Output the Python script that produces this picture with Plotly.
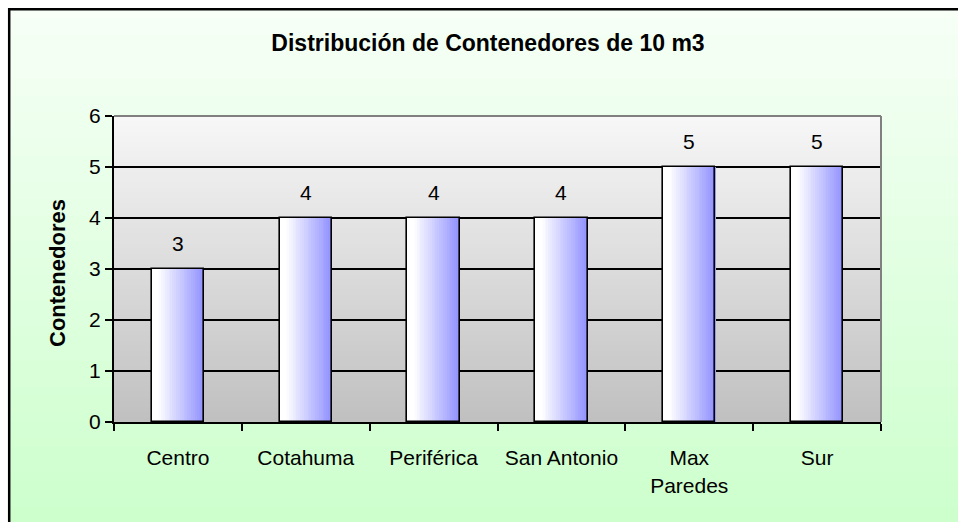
import plotly.graph_objects as go

categories = ["Centro", "Cotahuma", "Periférica", "San Antonio", "Max<br>Paredes", "Sur"]
values = [3, 4, 4, 4, 5, 5]
y_ticks = [0, 1, 2, 3, 4, 5, 6]
title_text = "Distribución de Contenedores de 10 m3"
y_title = "Contenedores"

W, H = 958, 522
L, R, T, B = 114, 77, 116, 100
pw = W - L - R
ph = H - T - B


def pxx(px):
    return (px - L) / pw


def pxy(py):
    return (H - B - py) / ph


FONT = "Liberation Sans, Arial, sans-serif"

fig = go.Figure()

# bars: horizontal gradient simulated with thin overlaid stripes
bar_w = 0.41
N = 28
c0 = (255, 255, 255)
c1 = (150, 150, 255)
for i in range(N):
    t = (i + 0.5) / N
    u = min(max((t - 0.12) / 0.83, 0.0), 1.0)
    c = tuple(round(a + (b - a) * u) for a, b in zip(c0, c1))
    fig.add_trace(go.Bar(
        x=categories, y=values,
        width=bar_w / N * 1.08,
        offset=-bar_w / 2 + i * bar_w / N,
        marker=dict(color="rgb(%d,%d,%d)" % c, line=dict(width=0)),
        hoverinfo="skip", showlegend=False,
    ))
# outline
fig.add_trace(go.Bar(
    x=categories, y=values, width=bar_w, offset=-bar_w / 2,
    marker=dict(color="rgba(0,0,0,0)", line=dict(color="black", width=1.6)),
    showlegend=False, hoverinfo="x+y",
))

shapes = []
# paper background gradient
M = 60
top_px, bot_px = 10, H + 2
g0 = (247, 255, 247)
g1 = (204, 255, 204)
for i in range(M):
    y0p = top_px + (bot_px - top_px) * i / M
    y1p = top_px + (bot_px - top_px) * (i + 1) / M + 0.8
    u = (i + 0.5) / M
    c = tuple(round(a + (b - a) * u) for a, b in zip(g0, g1))
    shapes.append(dict(type="rect", xref="paper", yref="paper",
                       x0=pxx(10), x1=pxx(W + 2), y0=pxy(y1p), y1=pxy(y0p),
                       fillcolor="rgb(%d,%d,%d)" % c, line=dict(width=0), layer="below"))
# plot area gradient
K = 60
p0 = (247, 247, 247)
p1 = (192, 192, 192)
for i in range(K):
    ya = 6 * i / K
    yb = 6 * (i + 1) / K + 0.02
    u = 1 - (i + 0.5) / K
    c = tuple(round(a + (b - a) * u) for a, b in zip(p0, p1))
    shapes.append(dict(type="rect", xref="x domain", yref="y",
                       x0=0, x1=1, y0=ya, y1=min(yb, 6),
                       fillcolor="rgb(%d,%d,%d)" % c, line=dict(width=0), layer="below"))
# outer black border (top + left)
shapes.append(dict(type="line", xref="paper", yref="paper",
                   x0=pxx(8), x1=pxx(W + 2), y0=pxy(9.2), y1=pxy(9.2),
                   line=dict(color="black", width=2.5), layer="above"))
shapes.append(dict(type="line", xref="paper", yref="paper",
                   x0=pxx(9.2), x1=pxx(9.2), y0=pxy(8), y1=pxy(H + 2),
                   line=dict(color="black", width=2.5), layer="above"))
# grey plot-area border (top + right)
shapes.append(dict(type="line", xref="paper", yref="paper",
                   x0=0, x1=1, y0=1, y1=1,
                   line=dict(color="#808080", width=2), layer="above"))
shapes.append(dict(type="line", xref="paper", yref="paper",
                   x0=1, x1=1, y0=0, y1=1,
                   line=dict(color="#808080", width=2), layer="above"))

annotations = []
for cat, v in zip(categories, values):
    annotations.append(dict(x=cat, y=v, xref="x", yref="y", text=str(v),
                            showarrow=False, yshift=26, yanchor="middle",
                            font=dict(family=FONT, size=21, color="black")))
annotations.append(dict(x=pxx(57), y=pxy(273), xref="paper", yref="paper",
                        text="<b>" + y_title + "</b>", textangle=-90, showarrow=False,
                        xanchor="center", yanchor="middle",
                        font=dict(family=FONT, size=22, color="black")))

fig.update_layout(
    width=W, height=H, autosize=False,
    margin=dict(l=L, r=R, t=T, b=B, pad=0),
    paper_bgcolor="white", plot_bgcolor="rgba(0,0,0,0)",
    barmode="overlay", bargap=0,
    title=dict(text="<b>" + title_text + "</b>", x=488 / W, xref="container", xanchor="center",
               y=1 - 43 / H, yref="container", yanchor="middle",
               font=dict(family=FONT, size=23, color="black")),
    shapes=shapes, annotations=annotations,
    xaxis=dict(type="category", range=[-0.5, 5.5], showline=True, linecolor="black", linewidth=2,
               ticks="outside", tickson="boundaries", ticklen=7, tickwidth=1.5, tickcolor="black",
               showgrid=False, tickfont=dict(family=FONT, size=21, color="black"),
               ticklabelstandoff=16),
    yaxis=dict(range=[0, 6], tickvals=y_ticks, showline=True, linecolor="black", linewidth=2,
               ticks="outside", ticklen=7, tickwidth=1.5, tickcolor="black",
               showgrid=True, gridcolor="black", gridwidth=1.5, zeroline=False,
               tickfont=dict(family=FONT, size=21, color="black")),
    showlegend=False,
)

fig.write_html(
    "out.html",
    config={"displayModeBar": False},
    post_script="document.body.style.margin='0';document.body.style.overflow='hidden';",
)
